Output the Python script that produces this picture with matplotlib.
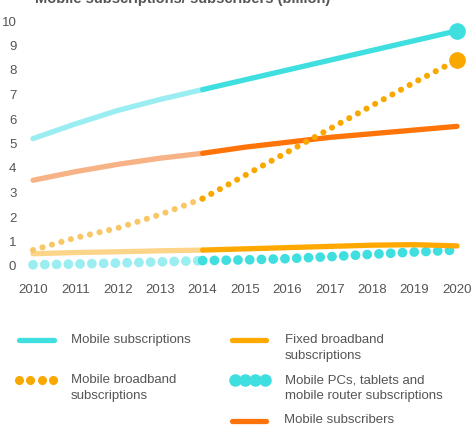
import numpy as np
import matplotlib
matplotlib.use("Agg")
import matplotlib.pyplot as plt
from matplotlib.lines import Line2D

plt.rcParams['font.family'] = ['Liberation Sans', 'DejaVu Sans']

# data (billion)
years = [2010, 2011, 2012, 2013, 2014, 2015, 2016, 2017, 2018, 2019, 2020]
mobile_subs = [5.2, 5.8, 6.35, 6.8, 7.2, 7.6, 8.0, 8.4, 8.8, 9.2, 9.6]
mobile_subscribers = [3.5, 3.85, 4.15, 4.4, 4.6, 4.85, 5.05, 5.25, 5.4, 5.55, 5.7]
mobile_bb = [0.65, 1.15, 1.55, 2.1, 2.75, 3.7, 4.65, 5.6, 6.55, 7.5, 8.4]
fixed_bb = [0.5, 0.55, 0.58, 0.62, 0.65, 0.7, 0.75, 0.8, 0.85, 0.87, 0.82]
mobile_pcs = [0.05, 0.08, 0.12, 0.17, 0.22, 0.25, 0.3, 0.38, 0.48, 0.57, 0.65]
split_year = 2014

light = {'cyan': '#9aedf0', 'orange': '#f7b285', 'yellow': '#fdd58a', 'ydot': '#f8c766'}
dark = {'cyan': '#3fdfe0', 'orange': '#ff7408', 'yellow': '#ffa800', 'ydot': '#f9a800'}

fig = plt.figure(figsize=(4.71, 4.37), dpi=100)
ax = fig.add_axes([33 / 471, (437 - 266) / 437, (457 - 33) / 471, 245 / 437])
ax.set_xlim(2010, 2020)
ax.set_ylim(0, 10)
for s in ax.spines.values():
    s.set_visible(False)

yrs = np.array(years)
hist = yrs <= split_year
fut = yrs >= split_year

def seg(vals, key, **kw):
    v = np.array(vals)
    ax.plot(yrs[hist], v[hist], color=light[key], clip_on=False, **kw)
    ax.plot(yrs[fut], v[fut], color=dark[key], clip_on=False, **kw)

solid = dict(lw=3.8, solid_capstyle='round', solid_joinstyle='round')
seg(mobile_pcs, 'cyan', lw=7, linestyle=(0, (0.01, 1.2)), dash_capstyle='round')
seg(fixed_bb, 'yellow', **solid)
seg(mobile_subscribers, 'orange', **solid)
seg(mobile_bb, 'ydot', lw=4.4, linestyle=(0, (0.01, 1.6)), dash_capstyle='round')
seg(mobile_subs, 'cyan', **solid)

ax.plot([years[-1]], [mobile_subs[-1]], 'o', ms=11, color=dark['cyan'], clip_on=False)
ax.plot([years[-1]], [mobile_bb[-1]], 'o', ms=11, color=dark['ydot'], clip_on=False)

ax.set_xticks(years)
ax.set_xticklabels([str(y) for y in years])
ax.set_yticks(range(0, 11))
ax.tick_params(length=0, labelsize=9.5, labelcolor='#555555')
ax.tick_params(axis='x', pad=13)
ax.tick_params(axis='y', pad=12)

fig.text(330 / 471, 1 - 3 / 437, 'Mobile subscriptions/ subscribers (billion)',
         ha='right', va='baseline', fontsize=10.5, fontweight='bold', color='#555555')

# legend
def handle(x0, x1, y, color, dotted=False, big=False):
    if dotted:
        n = 4
        xs = np.linspace(x0, x1, n) / 471
        ys = np.full(n, 1 - y / 437)
        fig.add_artist(Line2D(xs, ys, ls='none', marker='o', ms=8 if big else 5.5,
                              color=color, transform=fig.transFigure))
    else:
        fig.add_artist(Line2D([x0 / 471, x1 / 471], [1 - y / 437] * 2, lw=3.8, color=color,
                              solid_capstyle='round', transform=fig.transFigure))

def label(x, y, s):
    fig.text(x / 471, 1 - y / 437, s, ha='left', va='center', fontsize=9.5,
             color='#555555', linespacing=1.35)

handle(19, 54, 340, dark['cyan'])
label(71, 340, 'Mobile subscriptions')
handle(19, 53, 380, dark['ydot'], dotted=True)
label(71, 388, 'Mobile broadband\nsubscriptions')
handle(232, 266, 340, dark['yellow'])
label(285, 348, 'Fixed broadband\nsubscriptions')
handle(235, 265, 380, dark['cyan'], dotted=True, big=True)
label(285, 388, 'Mobile PCs, tablets and\nmobile router subscriptions')
handle(232, 266, 421, dark['orange'])
label(284, 420, 'Mobile subscribers')

fig.savefig('out.png', dpi=100)
